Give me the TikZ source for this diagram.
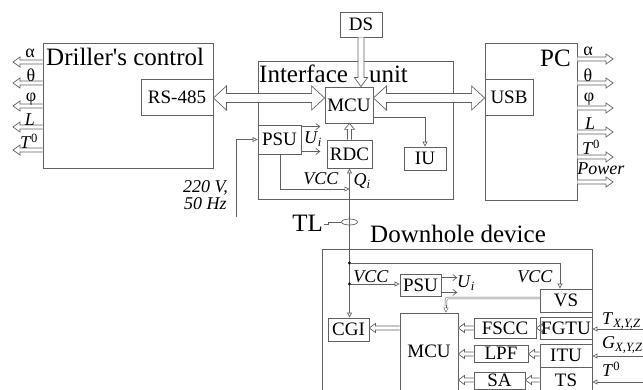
\documentclass[tikz,border=0pt]{standalone}
\usepackage{fontspec}
\setmainfont{Liberation Serif}
\usetikzlibrary{arrows.meta,calc,shapes.geometric}

\definecolor{ink}{gray}{0.38}

\tikzset{
  % single-headed hollow arrow: shaft half-width / head half-width / head length
  harrow/.style args={#1/#2/#3}{draw=ink, line width=0.7pt, fill=white, to path={
    let \p1=(\tikztostart), \p2=(\tikztotarget), \n1={atan2(\y2-\y1,\x2-\x1)} in
    ($(\p1)+(\n1+90:#1)$) -- ($(\p2)+(\n1+180:#3)+(\n1+90:#1)$)
    -- ($(\p2)+(\n1+180:#3)+(\n1+90:#2)$) -- (\p2)
    -- ($(\p2)+(\n1+180:#3)+(\n1-90:#2)$) -- ($(\p2)+(\n1+180:#3)+(\n1-90:#1)$)
    -- ($(\p1)+(\n1-90:#1)$)}},
  % double-headed hollow arrow
  hdarrow/.style args={#1/#2/#3}{draw=ink, line width=0.7pt, fill=white, to path={
    let \p1=(\tikztostart), \p2=(\tikztotarget), \n1={atan2(\y2-\y1,\x2-\x1)} in
    (\p1) -- ($(\p1)+(\n1:#3)+(\n1+90:#2)$) -- ($(\p1)+(\n1:#3)+(\n1+90:#1)$)
    -- ($(\p2)+(\n1+180:#3)+(\n1+90:#1)$) -- ($(\p2)+(\n1+180:#3)+(\n1+90:#2)$)
    -- (\p2) -- ($(\p2)+(\n1+180:#3)+(\n1-90:#2)$) -- ($(\p2)+(\n1+180:#3)+(\n1-90:#1)$)
    -- ($(\p1)+(\n1:#3)+(\n1-90:#1)$) -- ($(\p1)+(\n1:#3)+(\n1-90:#2)$) -- cycle}},
  box/.style={draw=ink, line width=0.8pt, inner sep=0pt, font=\fontsize{19}{21}\selectfont},
  title/.style={inner sep=0pt, font=\fontsize{25}{27}\selectfont},
  lbl/.style={inner sep=0pt, font=\fontsize{18}{20}\selectfont},
  wire/.style={draw=ink, line width=0.7pt},
  tri/.style={wire, -{Triangle[open, length=5pt, width=5pt]}},
  barb/.style={wire, -{Straight Barb[length=4pt, width=6pt]}},
}

\begin{document}
\begin{tikzpicture}[x=1pt, y=-1pt]
\useasboundingbox (0,0) rectangle (643,390);
\clip (0,0) rectangle (643,390);

% ---------- Driller's control ----------
\node[box, minimum width=170pt, minimum height=125pt] (drill) at (128,105.5) {};
\node[title, anchor=base west] (drillT) at (46,66) {Driller\textquotesingle s control};
\node[box, minimum width=72pt, minimum height=36pt] (rs) at (177,97) {RS-485};

% ---------- Interface unit ----------
\node[box, minimum width=195pt, minimum height=138pt] (iface) at (355.5,130) {};
\node[title, anchor=base west] (ifaceT) at (259,83) {Interface\hspace{21pt}unit};
\node[box, minimum width=42pt, minimum height=25pt] (ds) at (361,24.5) {DS};
\node[box, minimum width=48pt, minimum height=36pt] (mcu1) at (349,105) {MCU};
\node[box, minimum width=43pt, minimum height=29pt] (psu1) at (279.5,139.5) {PSU};
\node[box, minimum width=45pt, minimum height=28pt] (rdc) at (349.5,154) {RDC};
\node[box, minimum width=42pt, minimum height=23pt] (iu) at (425,158.5) {IU};

% ---------- PC ----------
\node[box, minimum width=92pt, minimum height=157pt] (pc) at (531,121.5) {};
\node[title, anchor=base east] (pcT) at (571,67) {PC};
\node[box, minimum width=48pt, minimum height=36pt] (usb) at (509,97) {USB};

% ---------- Downhole device ----------
\node[box, minimum width=270pt, minimum height=160pt] (dh) at (457,329) {};
\node[title, anchor=base west] (dhT) at (370,243) {Downhole device};
\node[box, minimum width=41pt, minimum height=22pt] (psu2) at (420.5,285) {PSU};
\node[box, minimum width=52pt, minimum height=23pt] (vs) at (566,300.5) {VS};
\node[box, minimum width=41pt, minimum height=23pt] (cgi) at (348.5,329.5) {CGI};
\node[box, minimum width=58pt, minimum height=87pt,
      label={[font=\fontsize{19}{21}\selectfont, yshift=5.5pt]center:MCU}] (mcu2) at (429,356.5) {};
\node[box, minimum width=62pt, minimum height=20pt] (fscc) at (505,328) {FSCC};
\node[box, minimum width=52pt, minimum height=22pt] (fgtu) at (566,328) {FGTU};
\node[box, minimum width=54pt, minimum height=17pt] (lpf) at (501,353.5) {LPF};
\node[box, minimum width=52pt, minimum height=23pt] (itu) at (566,355.5) {ITU};
\node[box, minimum width=51pt, minimum height=17pt] (sa) at (499.5,380.5) {SA};
\node[box, minimum width=52pt, minimum height=26pt] (ts) at (566,380) {TS};

% ---------- data buses ----------
\draw[hdarrow=4.5pt/12pt/13pt] (rs.east |- 0,98) to (mcu1.west |- 0,98);
\draw[hdarrow=4.5pt/12pt/13pt] (mcu1.east |- 0,98) to (usb.west |- 0,98);
\draw[harrow=3pt/6.5pt/9pt] (ds.south) to (ds.south |- mcu1.north);
\draw[harrow=2pt/5pt/6pt] (rdc.north) to (rdc.north |- mcu1.south);

% outputs of the driller's control
\foreach \y [count=\i] in {62,83,106,127,150}{
  \coordinate (dout\i) at (13,\y);
  \draw[harrow=2pt/5pt/7pt] (drill.west |- dout\i) to (dout\i);
}
\node[lbl] (da) at (30,53) {α};
\node[lbl] (dt) at (31,75) {θ};
\node[lbl] (dp) at (31,99) {φ};
\node[lbl] (dl) at (30,120) {\textit{L}};
\node[lbl] (dT) at (29,141) {\textit{T}\textsuperscript{0}};

% outputs of the PC
\foreach \y [count=\i] in {59,83,108,132,157,182}{
  \coordinate (pout\i) at (613,\y);
  \draw[harrow=2pt/5pt/7pt] (pc.east |- pout\i) to (pout\i);
}
\node[lbl] (pa) at (588,51) {α};
\node[lbl] (pt) at (588,75) {θ};
\node[lbl] (pp) at (589,99) {φ};
\node[lbl] (pl) at (590,124) {\textit{L}};
\node[lbl] (pT) at (591,147) {\textit{T}\textsuperscript{0}};
\node[lbl] (pw) at (601,169) {\textit{Power}};

% ---------- interface power ----------
\coordinate (ac) at (236,217);
\draw[tri] (ac) |- (psu1.west);
\node[lbl, anchor=base west] (acT1) at (183,193) {\textit{220 V,}};
\node[lbl, anchor=base west] (acT2) at (184,210) {\textit{50 Hz}};
\draw[barb] ($(psu1.north east)+(0,2)$) -- ++(19,0);
\draw[barb] ($(psu1.south east)+(0,-3)$) -- ++(19,0);
\node[lbl] (ui1) at (313,139) {\textit{U}\textsubscript{\textit{i}}};
\coordinate (vccI) at (rdc.south |- 0,189);
\draw[tri] (psu1.south -| 280,0) |- (vccI);
\node[lbl] (vcc1) at (321,179) {\textit{VCC}};
\node[lbl] (qi) at (362,181) {\textit{Q}\textsubscript{\textit{i}}};
\draw[tri] ($(mcu1.south east)+(0,-6)$) -| (iu.north);

% ---------- telemetry line ----------
\draw[wire, {Triangle[open, length=5pt, width=5pt]}-{Triangle[open, length=5pt, width=5pt]}]
  (rdc.south) -- (rdc.south |- cgi.north);
\node[draw=ink, line width=0.7pt, ellipse, minimum width=16pt, minimum height=6pt, inner sep=0pt] (ring) at (rdc.south |- 0,222) {};
\node[title, anchor=east] (tl) at (323,223) {TL};
\draw[wire] (tl.east) ++(1,1) -- ++(4,0) |- (ring.west);

% ---------- downhole power ----------
\coordinate (j1) at (rdc.south |- 0,263);
\coordinate (j2) at (rdc.south |- 0,284);
\fill[black] (j1) circle (1.6pt) (j2) circle (1.6pt);
\coordinate (vsin) at (560,0 |- vs.north);
\draw[tri] (j1) -| (vsin);
\draw[tri] (j2) -- (j2 -| psu2.west);
\node[lbl] (vcc2) at (371,277) {\textit{VCC}};
\node[lbl] (vcc3) at (535,277) {\textit{VCC}};
\draw[barb] ($(psu2.north east)+(0,4)$) -- ++(16,0);
\draw[barb] ($(psu2.south east)+(0,-4)$) -- ++(16,0);
\node[lbl] (ui2) at (466,283) {\textit{U}\textsubscript{\textit{i}}};

% VS to MCU
\coordinate (vsbend) at (446,298);
\draw[draw=ink, line width=0.5pt, double, double distance=1.3pt, rounded corners=2pt]
  (vs.west |- vsbend) -- (vsbend) -- ++(0,8);
\draw[tri, line width=0.5pt] (446,305) -- (446,0 |- mcu2.north);

% ---------- downhole signal chain ----------
\draw[harrow=2pt/4.5pt/6pt] (mcu2.west |- 0,328) to (cgi.east |- 0,328);
\draw[harrow=2pt/4.5pt/6pt] (fscc.west) to (mcu2.east |- fscc.west);
\draw[harrow=2pt/4.5pt/6pt] (fgtu.west |- fscc.east) to (fscc.east);
\draw[harrow=2pt/4.5pt/6pt] (lpf.west |- 0,354) to (mcu2.east |- 0,354);
\draw[harrow=2pt/4.5pt/6pt] (itu.west |- 0,354) to (lpf.east |- 0,354);
\draw[harrow=2pt/4.5pt/6pt] (sa.west |- 0,380) to (mcu2.east |- 0,380);
\draw[harrow=2pt/4.5pt/6pt] (ts.west |- 0,380) to (sa.east |- 0,380);

% sensor inputs
\coordinate (in1) at (643,329);
\coordinate (in2) at (643,356);
\coordinate (in3) at (643,382);
\draw[tri] (in1) -- (in1 -| fgtu.east);
\draw[tri] (in2) -- (in2 -| itu.east);
\draw[tri] (in3) -- (in3 -| ts.east);
\node[lbl, anchor=west] (txyz) at (602,321) {\textit{T}\textsubscript{\textit{X,Y,Z}}};
\node[lbl, anchor=west] (gxyz) at (602,345) {\textit{G}\textsubscript{\textit{X,Y,Z}}};
\node[lbl, anchor=west] (t0) at (602,369) {\textit{T}\textsuperscript{0}};
\end{tikzpicture}
\end{document}
